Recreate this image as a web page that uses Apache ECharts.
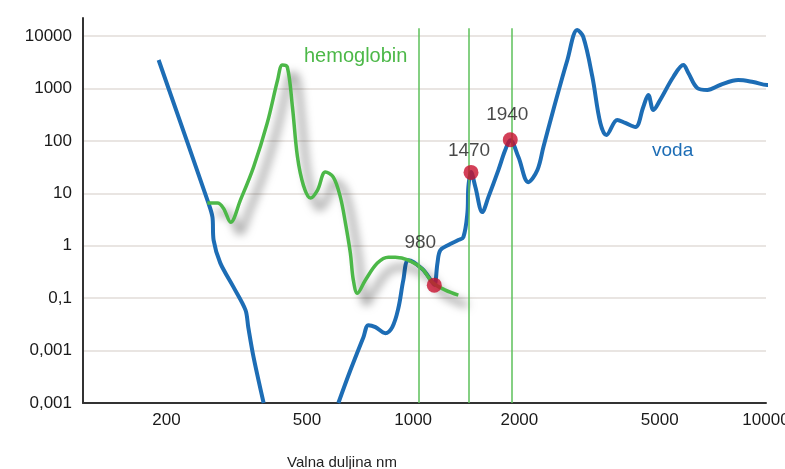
<!DOCTYPE html>
<html>
<head>
<meta charset="utf-8">
<script src="https://cdn.jsdelivr.net/npm/echarts@6/dist/echarts.min.js"></script>
<style>
html, body { margin: 0; padding: 0; background: #fff; }
#chart { width: 785px; height: 469px; }
</style>
</head>
<body>
<div id="chart"></div>
<script>
// osi
var xTicks = [200, 500, 1000, 2000, 5000, 10000];
var yTicks = [0.001, 0.01, 0.1, 1, 10, 100, 1000, 10000];
var yTickLabels = ['0,001', '0,001', '0,1', '1', '10', '100', '1000', '10000'];

// voda, UV dio  [nm, apsorpcija]
var vodaUV = [[190, 3480], [263, 6.5], [270, 3.5], [272, 1.28], [284, 0.47], [310, 0.16],
    [335, 0.059], [341, 0.028], [353, 0.0075], [377, 0.001]];
// voda, IR dio
var vodaIR = [[614, 0.001], [664, 0.0042], [723, 0.018], [747, 0.0305], [782, 0.028], [834, 0.0215],
    [873, 0.028], [908, 0.064], [938, 0.22], [970, 0.53], [1062, 0.358], [1134, 0.2], [1150, 0.18],
    [1172, 0.466], [1194, 0.82], [1259, 1.03], [1343, 1.28], [1388, 1.46], [1425, 4.19], [1434, 13.2],
    [1459, 25.4], [1501, 13.2], [1571, 4.38], [1634, 8.45], [1744, 27.7], [1824, 66.7], [1885, 103],
    [1988, 49], [2120, 16.3], [2250, 27.7], [2340, 76], [2496, 387], [2736, 3483], [2918, 13000],
    [3035, 9570], [3221, 1650], [3392, 219], [3529, 129], [3790, 250], [3992, 219], [4264, 183],
    [4490, 442], [4640, 748], [4795, 387], [5012, 601], [5460, 1650], [5830, 2800], [6025, 1968],
    [6385, 1018], [6820, 932], [7416, 1161], [8340, 1446], [9200, 1325], [10080, 1161], [10980, 1325],
    [11340, 1446]];

// hemoglobin
var hemoglobin = [[261, 6.5], [279, 6.5], [290, 5.2], [304, 2.8], [324, 7.4], [353, 31.6], [386, 219],
    [413, 1445], [426, 2800], [440, 2560], [455, 442], [470, 50], [489, 14], [512, 8.1], [536, 11.5],
    [564, 25.4], [594, 20.4], [622, 8.45], [643, 2.7], [664, 0.72], [677, 0.22], [695, 0.124],
    [732, 0.22], [792, 0.466], [851, 0.605], [890, 0.605], [970, 0.53], [1062, 0.358], [1134, 0.2],
    [1234, 0.142], [1343, 0.114]];

// oznacene valne duljine
var vLines = [1035, 1434, 1898];
var vLineTop = 14000;
var dots = [[1148, 0.177], [1459, 25], [1885, 105]];
var dotNames = ['980', '1470', '1940'];

var BLUE = '#1d6db5';
var GREEN = '#4cb848';
var FONT = 'Liberation Sans, Arial, sans-serif';

var dotLabelOffset = [[-14, -20], [-2, 0], [-3, -3]];
var dotData = dots.map(function (d, i) {
    return {
        value: d,
        name: dotNames[i],
        label: { offset: dotLabelOffset[i] }
    };
});

var myChart = echarts.init(document.getElementById('chart'));

var option = {
    backgroundColor: '#fff',
    animation: false,
    grid: { left: 83, right: 19, top: 18, bottom: 66, outerBoundsMode: 'none', containLabel: false },
    xAxis: {
        type: 'log',
        min: 116,
        max: 10000,
        name: 'Valna duljina nm',
        nameLocation: 'middle',
        nameGap: 52,
        nameTextStyle: { fontFamily: FONT, fontSize: 15, color: '#222', padding: [0, 165, 0, 0] },
        axisLine: { lineStyle: { color: '#333', width: 2 } },
        axisTick: { show: false },
        splitLine: { show: false },
        axisLabel: {
            customValues: xTicks,
            margin: 9,
            fontFamily: FONT,
            fontSize: 17,
            color: '#1a1a1a',
            formatter: function (v) { return String(Math.round(v)); }
        }
    },
    yAxis: {
        type: 'log',
        min: 0.001,
        max: 22000,
        axisLine: { show: true, lineStyle: { color: '#333', width: 2 } },
        axisTick: { show: false, customValues: yTicks },
        splitLine: { show: true, lineStyle: { color: '#e2dcd8', width: 1.5 } },
        axisLabel: {
            customValues: yTicks,
            margin: 11,
            fontFamily: FONT,
            fontSize: 17,
            color: '#1a1a1a',
            formatter: function (v) {
                var i = Math.round(Math.log10(v)) + 3;
                return yTickLabels[i];
            }
        }
    },
    graphic: [
        { type: 'text', left: 304, top: 46, style: { text: 'hemoglobin', font: '20px ' + FONT, fill: GREEN } },
        { type: 'text', left: 652, top: 141, style: { text: 'voda', font: '19px ' + FONT, fill: BLUE } }
    ],
    series: [
        {
            type: 'line',
            data: [],
            silent: true,
            markLine: {
                symbol: 'none',
                silent: true,
                label: { show: false },
                lineStyle: { color: '#5cc05a', width: 1.5, type: 'solid' },
                data: vLines.map(function (x) {
                    return [{ coord: [x, vLineTop] }, { coord: [x, 0.001] }];
                })
            }
        },
        {
            name: 'voda',
            type: 'line',
            data: vodaUV,
            smooth: 0.3,
            showSymbol: false,
            clip: false,
            lineStyle: { color: BLUE, width: 4 }
        },
        {
            name: 'voda',
            type: 'line',
            data: vodaIR,
            smooth: 0.35,
            showSymbol: false,
            clip: false,
            lineStyle: { color: BLUE, width: 4 }
        },
        {
            name: 'hemoglobin',
            type: 'line',
            data: hemoglobin,
            smooth: 0.35,
            showSymbol: false,
            lineStyle: {
                color: GREEN, width: 3.5,
                shadowColor: 'rgba(0,0,0,0.6)', shadowBlur: 10,
                shadowOffsetX: 9, shadowOffsetY: 10
            }
        },
        {
            type: 'scatter',
            data: dotData,
            symbolSize: 15,
            itemStyle: { color: '#c8102e' },
            label: {
                show: true,
                position: 'top',
                formatter: '{b}',
                fontFamily: FONT,
                fontSize: 19,
                color: '#1a1a1a'
            },
            z: 5
        }
    ]
};

myChart.setOption(option);
</script>
</body>
</html>
